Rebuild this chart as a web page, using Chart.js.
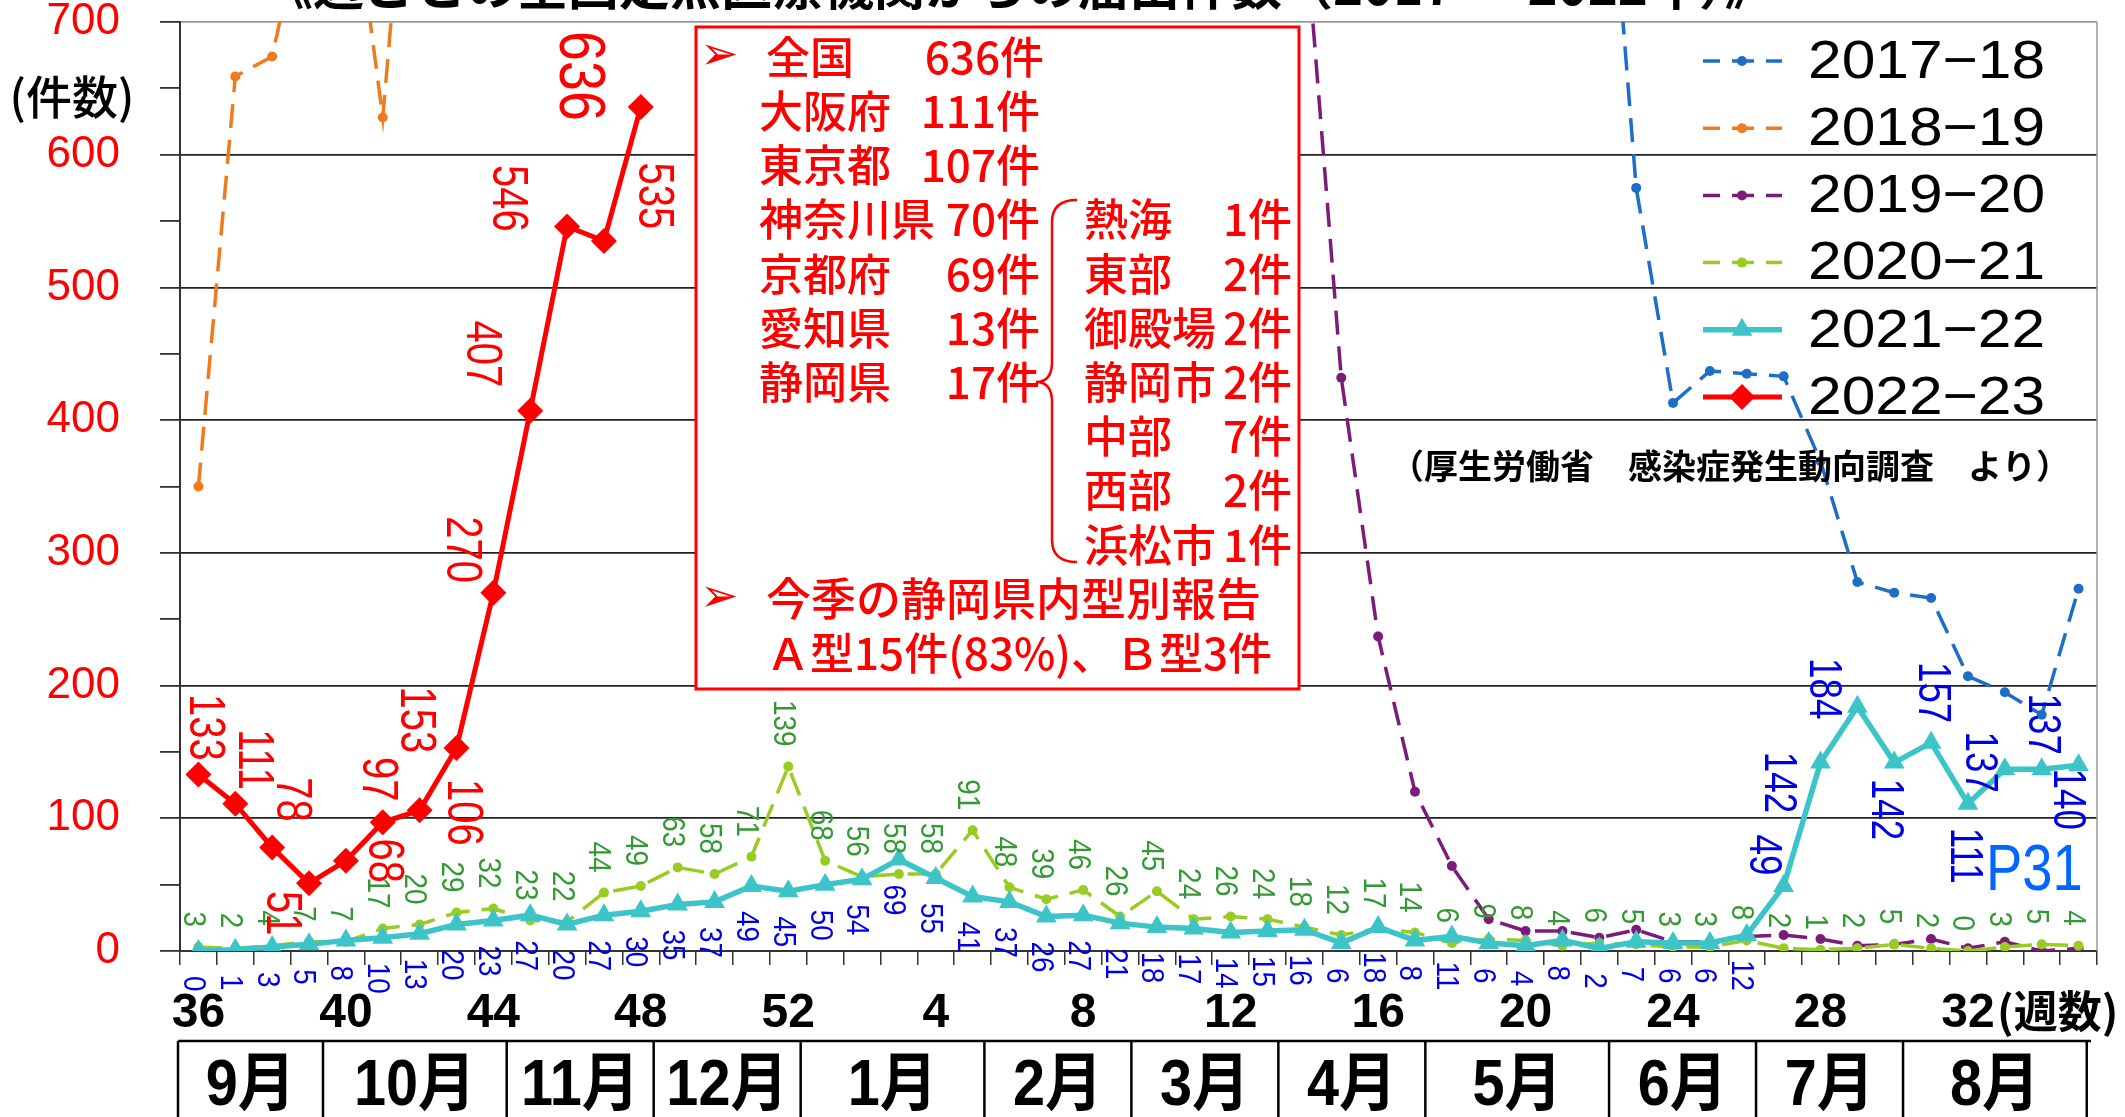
<!DOCTYPE html>
<html>
<head>
<meta charset="utf-8">
<script src="https://cdn.jsdelivr.net/npm/chart.js@4.4.0/dist/chart.umd.min.js"></script>
<style>
  html, body { margin: 0; padding: 0; background: #fff; }
  canvas { display: block; }
</style>
</head>
<body>
<canvas id="flu-chart" width="2125" height="1117"></canvas>
<script>
// week numbers, season starts at week 36
const weeks = ['36','37','38','39','40','41','42','43','44','45','46','47','48','49','50','51','52',
  '1','2','3','4','5','6','7','8','9','10','11','12','13','14','15','16','17','18','19','20',
  '21','22','23','24','25','26','27','28','29','30','31','32','33','34','35'];

const months = ['9月','10月','11月','12月','1月','2月','3月','4月','5月','6月','7月','8月'];
const monthWeeks = [4, 5, 4, 4, 5, 4, 4, 4, 5, 4, 4, 5];

const seasonNames = ['2017−18', '2018−19', '2019−20', '2020−21', '2021−22', '2022−23'];

// values above 700 run off the top of the plot
const s2017 = [null,null,null,null,null,null,null,null,null,null,
  null,null,null,null,null,null,null,null,null,null,
  null,null,null,null,null,null,null,null,null,null,
  null,null,null,null,null,null,null,null,
  925,575,413,437,435,433,369,278,270,266,207,195,178,273];
const s2018 = [350,659,674,800,840,628,950,
  null,null,null,null,null,null,null,null,null,null,
  null,null,null,null,null,null,null,null,null,null,
  null,null,null,null,null,null,null,null,null,null,
  null,null,null,null,null,null,null,null,null,null,
  null,null,null,null,null];
const s2019 = [null,null,null,null,null,null,null,null,null,null,
  null,null,null,null,null,null,null,null,null,null,
  null,null,null,null,null,null,null,null,null,null,
  780,432,237,120,64,24,15,15,10,16,7,7,11,12,9,4,5,9,2,7,0,2];
const s2020 = [3,2,4,7,7,17,20,29,32,23,22,44,49,63,58,71,139,
  68,56,58,58,91,48,39,46,26,45,24,26,24,18,12,17,14,6,9,8,4,6,5,3,3,8,2,1,2,5,2,0,3,5,4];
const s2021 = [0,1,3,5,8,10,13,20,23,27,20,27,30,35,37,49,45,
  50,54,69,55,41,37,26,27,21,18,17,14,15,16,6,18,8,11,6,4,8,2,7,6,6,12,49,142,184,142,157,111,137,137,140];
const s2022 = [133,111,78,51,68,97,106,153,270,407,546,535,636,
  null,null,null,null,null,null,null,null,null,null,
  null,null,null,null,null,null,null,null,null,null,
  null,null,null,null,null,null,null,null,null,null,
  null,null,null,null,null,null,null,null,null];

// text of the red note box: [left name, left count, right name, right count]
const noteRows = [
  ['全国', '636件', '', ''],
  ['大阪府', '111件', '', ''],
  ['東京都', '107件', '', ''],
  ['神奈川県', '70件', '熱海', '1件'],
  ['京都府', '69件', '東部', '2件'],
  ['愛知県', '13件', '御殿場', '2件'],
  ['静岡県', '17件', '静岡市', '2件'],
  ['', '', '中部', '7件'],
  ['', '', '西部', '2件'],
  ['', '', '浜松市', '1件']
];
const noteTypeHead = '今季の静岡県内型別報告';
const noteTypeLine = 'Ａ型15件(83%)、Ｂ型3件';

const SANS = '"Liberation Sans", Arial, sans-serif';
const CJK = '"Noto Sans CJK JP", "Noto Sans CJK SC", sans-serif';

// label placement per season: [dx, dy, fontSize, xScale] overrides per point index
const labelStyles = {
  '2020−21': { color: '#339933', size: 31, sx: 0.9, side: 'above', gap: 20, dx: -6 },
  '2021−22': { color: '#0000E6', size: 31, sx: 0.9, side: 'below', gap: 25, dx: -6,
    shifts: { 43: [-21, -31, 46, 0.8], 44: [-43, 20, 46, 0.8], 45: [-35, -18, 46, 0.8],
      46: [-10, 47, 46, 0.8], 47: [1, -50, 46, 0.8], 48: [-4, 52, 46, 0.8],
      49: [-26, -7, 46, 0.8], 50: [0, -45, 46, 0.8], 51: [-12, 34, 46, 0.8] } },
  '2022−23': { color: '#FF0000', size: 50, sx: 0.8, side: 'above', gap: 14, dx: 0,
    shifts: { 0: [5, -47], 1: [17, -44], 2: [19, -48], 3: [-28, 30], 4: [37, 0], 5: [-6, -43],
      6: [42, 2], 7: [-42, -28], 8: [-33, -43], 9: [-49, -57], 10: [-60, -28], 11: [49, -45],
      12: [-63, -31, 64, 0.84] } }
};

const valueLabels = {
  id: 'valueLabels',
  afterDatasetsDraw(chart) {
    const ctx = chart.ctx;
    chart.data.datasets.forEach((ds, di) => {
      const st = labelStyles[ds.label];
      if (!st) return;
      const meta = chart.getDatasetMeta(di);
      meta.data.forEach((pt, i) => {
        const v = ds.data[i];
        if (v === null || v === undefined) return;
        const shift = st.shifts && st.shifts[i];
        const size = (shift && shift[2]) || st.size;
        const sx = (shift && shift[3]) || st.sx;
        const text = String(v);
        ctx.save();
        ctx.font = size + 'px ' + SANS;
        const len = ctx.measureText(text).width * sx;
        let cx, cy;
        if (shift) {
          cx = pt.x + shift[0];
          cy = pt.y + shift[1];
        } else {
          cx = pt.x + st.dx;
          cy = st.side === 'above' ? pt.y - st.gap - len / 2 : pt.y + st.gap + len / 2;
        }
        ctx.translate(cx, cy);
        ctx.rotate(Math.PI / 2);
        ctx.scale(sx, 1);
        ctx.fillStyle = st.color;
        ctx.textAlign = 'center';
        ctx.textBaseline = 'middle';
        ctx.fillText(text, 0, 0);
        ctx.restore();
      });
    });
  }
};

const whiteBg = {
  id: 'whiteBg',
  beforeDraw(chart) {
    const ctx = chart.ctx;
    ctx.save();
    ctx.fillStyle = '#fff';
    ctx.fillRect(0, 0, chart.width, chart.height);
    ctx.restore();
  },
  beforeDatasetsDraw(chart) {
    const { ctx, chartArea } = chart;
    ctx.save();
    ctx.strokeStyle = '#999';
    ctx.lineWidth = 1.5;
    ctx.beginPath();
    ctx.moveTo(chartArea.right, chartArea.top);
    ctx.lineTo(chartArea.right, chartArea.bottom);
    ctx.stroke();
    ctx.restore();
  }
};

const monthTable = {
  id: 'monthTable',
  afterDraw(chart) {
    const ctx = chart.ctx;
    const xs = chart.scales.x;
    const band = (xs.right - xs.left) / weeks.length;
    const top = 1041, bottom = chart.height;
    ctx.save();
    ctx.strokeStyle = '#000';
    ctx.lineWidth = 2.5;
    ctx.beginPath();
    ctx.moveTo(xs.left - 2, top);
    ctx.lineTo(xs.right - 6, top);
    let k = 0;
    const edges = [xs.left - 2];
    monthWeeks.forEach(n => { k += n; edges.push(xs.left + k * band - 4 - k * 0.12); });
    edges.forEach(x => { ctx.moveTo(x, top); ctx.lineTo(x, bottom); });
    ctx.stroke();
    ctx.fillStyle = '#000';
    ctx.font = 'bold 64px "Liberation Sans", Arial, ' + CJK;
    ctx.textAlign = 'center';
    ctx.textBaseline = 'middle';
    months.forEach((m, i) => {
      ctx.save();
      ctx.translate((edges[i] + edges[i + 1]) / 2, 1087);
      ctx.scale(0.9, 1);
      ctx.fillText(m, 0, 0);
      ctx.restore();
    });
    ctx.restore();
  }
};

const annotations = {
  id: 'annotations',
  afterDraw(chart) {
    const ctx = chart.ctx;
    ctx.save();
    // title (top half cut off by the frame)
    ctx.fillStyle = '#000';
    ctx.font = 'bold 51px ' + CJK;
    ctx.textAlign = 'left';
    ctx.textBaseline = 'alphabetic';
    ctx.fillText('《週ごとの全国定点医療機関からの届出件数（2017 ～ 2022年）》', 262, 5);

    // axis captions
    ctx.font = '500 46px ' + CJK;
    ctx.textAlign = 'center';
    ctx.textBaseline = 'middle';
    ctx.fillText('(件数)', 72, 97);
    ctx.font = 'bold 44px ' + CJK;
    ctx.textAlign = 'left';
    ctx.fillText('(週数)', 1997, 1011);

    // source note
    ctx.font = 'bold 34px ' + CJK;
    ctx.fillText('（厚生労働省　感染症発生動向調査　より）', 1390, 466);

    // page mark
    ctx.save();
    ctx.fillStyle = '#0066FF';
    ctx.font = '64px ' + SANS;
    ctx.translate(1986, 890);
    ctx.scale(0.85, 1);
    ctx.textBaseline = 'alphabetic';
    ctx.fillText('P31', 0, 0);
    ctx.restore();

    // red note box
    ctx.fillStyle = '#fff';
    ctx.fillRect(696, 27, 603, 662);
    ctx.strokeStyle = '#FF0000';
    ctx.lineWidth = 3;
    ctx.strokeRect(696, 27, 603, 662);
    ctx.fillStyle = '#FF0000';
    ctx.textBaseline = 'middle';
    ctx.font = '46px "DejaVu Sans", sans-serif';
    ctx.textAlign = 'left';
    ctx.fillText('➢', 700, 57);
    ctx.fillText('➢', 700, 599);
    ctx.font = '500 44px ' + CJK;
    noteRows.forEach((r, i) => {
      const y = 57 + i * 54.2;
      ctx.textAlign = 'left';
      if (r[0]) ctx.fillText(r[0], i === 0 ? 766 : 759, y);
      if (r[2]) ctx.fillText(r[2], 1084, y);
      ctx.textAlign = 'right';
      if (r[1]) ctx.fillText(r[1], i === 0 ? 1044 : 1040, y);
      if (r[3]) ctx.fillText(r[3], 1292, y);
    });
    ctx.textAlign = 'left';
    ctx.font = '500 45px ' + CJK;
    ctx.fillText(noteTypeHead, 766, 599);
    ctx.font = '500 44px ' + CJK;
    ctx.fillText(noteTypeLine, 766, 653);
    // brace grouping Shizuoka areas
    ctx.strokeStyle = '#FF0000';
    ctx.lineWidth = 2.5;
    ctx.beginPath();
    ctx.moveTo(1077, 200);
    ctx.quadraticCurveTo(1052, 200, 1052, 222);
    ctx.lineTo(1052, 362);
    ctx.quadraticCurveTo(1052, 382, 1036, 382);
    ctx.quadraticCurveTo(1052, 382, 1052, 402);
    ctx.lineTo(1052, 540);
    ctx.quadraticCurveTo(1052, 562, 1077, 562);
    ctx.stroke();

    // legend
    const H = Chart.helpers;
    chart.data.datasets.forEach((ds, i) => {
      const y = 61 + i * 67.2;
      ctx.save();
      ctx.strokeStyle = ds.borderColor;
      ctx.fillStyle = ds.backgroundColor;
      ctx.lineWidth = ds.borderWidth;
      ctx.setLineDash(ds.borderDash ? [22, 12] : []);
      ctx.lineDashOffset = ds.borderDash ? 5 : 0;
      ctx.beginPath();
      ctx.moveTo(1703, y);
      ctx.lineTo(1782, y);
      ctx.stroke();
      ctx.setLineDash([]);
      H.drawPoint(ctx, { pointStyle: ds.pointStyle, radius: ds.pointRadius, rotation: 0, borderWidth: 0 }, 1742, y);
      ctx.fillStyle = '#000';
      ctx.font = '54px ' + SANS;
      ctx.textAlign = 'left';
      ctx.textBaseline = 'middle';
      ctx.translate(1808, y + 2);
      ctx.scale(1.12, 1);
      ctx.fillText(ds.label, 0, 0);
      ctx.restore();
    });
    ctx.restore();
  }
};

function season(label, data, color, opts) {
  return Object.assign({
    label: label,
    data: data,
    borderColor: color,
    backgroundColor: color,
    pointBackgroundColor: color,
    pointBorderColor: color,
    pointBorderWidth: 0,
    borderWidth: 3.5,
    borderDash: [24, 12],
    pointStyle: 'circle',
    pointRadius: 5,
    tension: 0,
    spanGaps: false
  }, opts);
}

function noOverhang(s) {
  s.paddingTop = 0;
  s.paddingBottom = 0;
  s.paddingLeft = 0;
  s.paddingRight = 0;
}

const ctx = document.getElementById('flu-chart').getContext('2d');
new Chart(ctx, {
  type: 'line',
  data: {
    labels: weeks,
    datasets: [
      season(seasonNames[0], s2017, '#1E6EC8', { order: 6 }),
      season(seasonNames[1], s2018, '#F07A1E', { order: 5 }),
      season(seasonNames[2], s2019, '#7B1C7B', { order: 4 }),
      season(seasonNames[3], s2020, '#99CC22', { order: 3 }),
      season(seasonNames[4], s2021, '#3CC4C8', { order: 2, borderDash: undefined, borderWidth: 5.5,
        pointStyle: 'triangle', pointRadius: 12 }),
      season(seasonNames[5], s2022, '#FF0000', { order: 1, borderDash: undefined, borderWidth: 5,
        pointStyle: 'rectRot', pointRadius: 13 })
    ]
  },
  options: {
    responsive: false,
    animation: false,
    devicePixelRatio: 1,
    layout: { padding: { top: 22, right: 28, left: 0, bottom: 0 } },
    plugins: {
      legend: { display: false },
      tooltip: { enabled: false },
      title: { display: false }
    },
    interaction: { mode: null },
    scales: {
      x: {
        offset: true,
        grid: { offset: true, drawOnChartArea: false, tickLength: 14, color: '#333', lineWidth: 1.5 },
        border: { color: '#333', width: 2 },
        ticks: {
          autoSkip: false, maxRotation: 0, minRotation: 0, padding: 20, color: '#000',
          font: { family: SANS, size: 48, weight: 'bold' },
          callback: (v, i) => (i % 4 === 0 ? weeks[i] : '')
        },
        afterFit: s => { s.height = 166; noOverhang(s); }
      },
      y: {
        min: 0,
        max: 700,
        ticks: {
          stepSize: 50, autoSkip: false, padding: 40, color: '#FF0000',
          font: { family: SANS, size: 44 },
          callback: v => (v % 100 === 0 ? v : '')
        },
        grid: {
          color: c => (c.tick && c.tick.value % 100 === 0 ? (c.tick.value === 700 ? '#999' : '#222') : 'rgba(0,0,0,0)'),
          tickColor: '#333',
          tickLength: 20,
          lineWidth: 1.8
        },
        border: { color: '#333', width: 2 },
        afterFit: s => { s.width = 180; noOverhang(s); }
      }
    }
  },
  plugins: [whiteBg, valueLabels, monthTable, annotations]
});
</script>
</body>
</html>
